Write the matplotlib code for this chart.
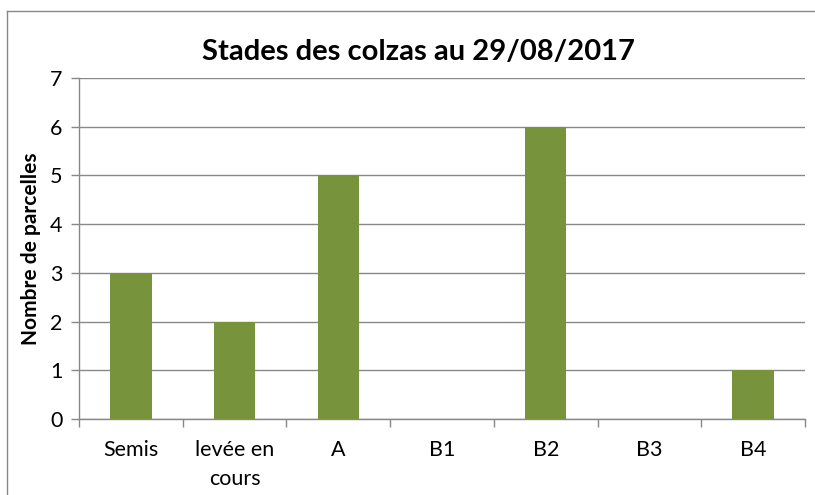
import matplotlib.pyplot as plt
from matplotlib.lines import Line2D

plt.rcParams['font.family'] = ['Lato', 'DejaVu Sans']

stades = ['Semis', 'levée en\ncours', 'A', 'B1', 'B2', 'B3', 'B4']
parcelles = [3, 2, 5, 0, 6, 0, 1]

W, H = 815, 495
fig = plt.figure(figsize=(W / 100, H / 100), dpi=100)
ax = fig.add_axes([79 / W, 1 - 419 / H, (805 - 79) / W, (419 - 78) / H])

x = list(range(len(stades)))
ax.bar(x, parcelles, width=0.4, color='#77933C', zorder=3)

ax.set_xlim(-0.5, len(stades) - 0.5)
ax.set_ylim(0, 7)
ax.set_yticks(range(0, 8))
ax.yaxis.grid(True, color='#888888', linewidth=1.0, zorder=0)

# category labels centred, ticks on the boundaries
ax.set_xticks(x)
ax.set_xticklabels(stades, fontsize=15.5, linespacing=1.55)
ax.tick_params(axis='x', length=0, pad=15)
ax.set_xticks([i - 0.5 for i in range(len(stades) + 1)], minor=True)
ax.tick_params(axis='x', which='minor', length=6, color='#888888', width=1)
ax.tick_params(axis='y', length=6, color='#888888', width=1, labelsize=15.5, pad=6)

for side in ['top', 'right']:
    ax.spines[side].set_visible(False)
for side in ['left', 'bottom']:
    ax.spines[side].set_color('#888888')
    ax.spines[side].set_linewidth(1.0)

ax.set_ylabel('Nombre de parcelles', fontsize=15, fontweight='bold', labelpad=6)
fig.text(418 / W, 1 - 52 / H, 'Stades des colzas au 29/08/2017',
         ha='center', va='center', fontsize=21, fontweight='bold')

# chart border (only left and top visible in the crop)
fig.add_artist(Line2D([7 / W, 7 / W], [0, 1 - 11 / H], transform=fig.transFigure,
                      color='#888888', linewidth=1))
fig.add_artist(Line2D([7 / W, 1], [1 - 11 / H, 1 - 11 / H], transform=fig.transFigure,
                      color='#888888', linewidth=1))

fig.savefig('out.png', dpi=100)
